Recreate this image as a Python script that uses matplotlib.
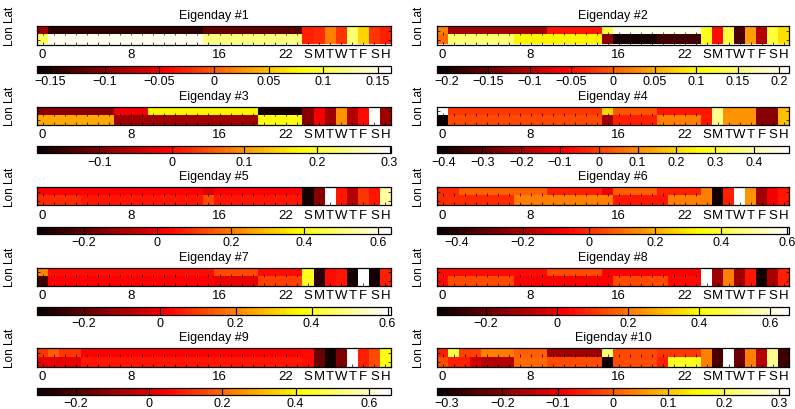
import numpy as np
import matplotlib
matplotlib.use('Agg')
import matplotlib.pyplot as plt
from matplotlib.ticker import MultipleLocator, FuncFormatter

plt.rcParams['font.family'] = ['Liberation Sans', 'DejaVu Sans']

# x axis: 24 hours then the week days + holiday
hour_ticks = [0, 8, 16, 22]
hour_labels = ['0', '8', '16', '22']
day_labels = ['S', 'M', 'T', 'W', 'T', 'F', 'S', 'H']
titles = ['Eigenday #%d' % (i + 1) for i in range(10)]

# top row of each eigenday (Lat), 24 hours
lat = [
    [-0.09, -0.146, -0.146, -0.146, -0.146, -0.146, -0.146, -0.146, -0.146, -0.146, -0.146, -0.146,
     -0.146, -0.146, -0.146, -0.12, -0.12, -0.12, -0.12, -0.12, -0.12, -0.12, -0.12, -0.12],
    [0.021, -0.119, -0.119, -0.119, -0.119, -0.119, -0.119, -0.119, -0.119, -0.119, -0.042, -0.042,
     -0.042, -0.042, -0.042, 0.127, 0.199, 0.199, 0.199, 0.199, 0.199, 0.199, 0.199, 0.199],
    [-0.088, -0.088, -0.088, -0.088, -0.088, -0.088, -0.088, -0.015, -0.015, -0.015, 0.165, 0.165,
     0.165, 0.165, 0.165, 0.165, 0.165, 0.165, 0.165, 0.165, -0.171, -0.171, -0.171, -0.171],
    [0.48, -0.009, -0.009, -0.009, -0.009, -0.009, -0.009, -0.009, -0.009, -0.009, -0.009, -0.009,
     -0.009, -0.009, -0.009, 0.2, 0.036, 0.036, 0.036, 0.036, -0.054, -0.054, -0.054, -0.054],
    [0.02, 0.02, 0.02, 0.02, 0.02, 0.02, 0.02, 0.02, 0.02, 0.02, 0.02, 0.02,
     0.02, 0.02, 0.02, -0.02, 0.03, 0.03, 0.03, 0.03, 0.03, 0.03, 0.03, 0.03],
    [-0.002, -0.002, 0.073, 0.073, 0.073, 0.073, 0.073, 0.073, 0.073, 0.073, -0.013, -0.013,
     -0.013, -0.013, -0.013, -0.087, 0.073, 0.073, 0.073, 0.073, -0.013, -0.013, -0.013, -0.013],
    [0.19, 0.031, 0.031, 0.031, 0.031, 0.031, 0.031, 0.031, 0.031, 0.031, 0.031, 0.031,
     0.031, 0.031, 0.031, 0.031, 0.124, 0.124, 0.124, 0.124, 0.031, 0.031, 0.031, 0.031],
    [0.039, 0.039, 0.039, 0.039, 0.039, 0.039, 0.039, 0.039, 0.039, 0.039, 0.138, 0.138,
     0.138, 0.138, 0.138, 0.029, 0.029, 0.029, 0.029, 0.029, 0.029, 0.029, 0.029, 0.029],
    [0.12, 0.178, 0.12, 0.12, 0.052, 0.052, 0.052, 0.052, 0.052, 0.052, 0.052, 0.052,
     0.052, 0.052, 0.052, 0.052, 0.052, 0.052, 0.052, 0.052, 0.052, 0.052, 0.052, 0.052],
    [-0.051, 0.191, -0.025, -0.025, 0.032, 0.032, 0.032, 0.0, 0.0, 0.0, -0.178, -0.178,
     -0.178, -0.178, -0.178, 0.223, -0.013, -0.013, -0.013, -0.013, -0.032, -0.032, -0.032, -0.032],
]

# bottom row of each eigenday (Lon), 24 hours
lon = [
    [0.11, 0.155, 0.155, 0.155, 0.155, 0.155, 0.155, 0.155, 0.155, 0.155, 0.155, 0.155,
     0.155, 0.155, 0.155, 0.12, 0.12, 0.12, 0.12, 0.12, 0.12, 0.12, 0.12, 0.12],
    [0.01, 0.148, 0.148, 0.148, 0.148, 0.148, 0.148, 0.093, 0.093, 0.093, 0.093, 0.093,
     0.093, 0.093, 0.093, -0.127, -0.204, -0.204, -0.204, -0.204, -0.178, -0.178, -0.178, -0.178],
    [0.112, 0.112, 0.112, 0.112, 0.112, 0.112, 0.112, -0.079, -0.079, -0.079, -0.079, -0.079,
     -0.079, -0.079, -0.079, -0.079, -0.079, -0.079, -0.079, -0.079, 0.18, 0.18, 0.18, 0.18],
    [-0.41, 0.018, 0.018, 0.018, 0.018, 0.018, 0.018, 0.018, 0.018, 0.018, 0.018, 0.018,
     0.018, 0.018, 0.018, -0.217, -0.036, -0.036, -0.036, -0.036, 0.091, 0.091, 0.091, 0.091],
    [0.08, 0.08, 0.08, 0.08, 0.06, 0.06, 0.06, 0.06, 0.06, 0.06, 0.06, 0.06,
     0.06, 0.06, 0.06, 0.13, 0.06, 0.06, 0.06, 0.06, 0.06, 0.06, 0.06, 0.06],
    [-0.002, -0.002, -0.002, -0.002, -0.002, -0.002, -0.002, 0.126, 0.126, 0.126, 0.126, 0.126,
     0.126, 0.126, 0.126, 0.126, -0.034, -0.034, -0.034, -0.034, -0.034, 0.126, 0.126, 0.126],
    [-0.248, 0.013, 0.013, 0.013, 0.013, 0.013, 0.013, 0.013, 0.013, 0.013, 0.013, 0.013,
     0.013, 0.013, 0.013, 0.013, -0.015, -0.015, -0.015, -0.015, 0.106, 0.106, 0.106, 0.106],
    [0.039, 0.128, 0.128, 0.128, 0.128, 0.128, 0.128, 0.019, 0.019, 0.019, 0.019, 0.019,
     0.019, 0.019, 0.019, 0.019, 0.128, 0.128, 0.128, 0.128, 0.128, 0.039, 0.039, 0.039],
    [0.023, 0.023, 0.023, 0.023, 0.081, 0.081, 0.081, 0.081, 0.081, 0.081, 0.081, 0.081,
     0.081, 0.081, 0.081, 0.081, 0.081, 0.081, 0.081, 0.081, 0.081, 0.081, 0.081, 0.081],
    [-0.013, -0.051, -0.051, -0.127, -0.159, -0.159, -0.159, 0.013, 0.013, 0.013, -0.019, -0.019,
     -0.019, -0.019, -0.019, -0.305, -0.013, -0.013, -0.013, -0.013, -0.051, 0.178, 0.178, 0.178],
]

# S M T W T F S H
days = [
    [-0.026, -0.023, 0.016, -0.019, 0.113, 0.057, -0.016, -0.026],
    [0.119, -0.051, 0.127, -0.17, 0.042, -0.106, 0.127, 0.085],
    [-0.088, -0.015, -0.079, 0.097, -0.064, 0.0, 0.3, -0.079],
    [-0.054, 0.381, 0.109, 0.109, 0.109, -0.236, -0.236, 0.173],
    [-0.308, -0.134, 0.63, 0.058, -0.086, 0.106, 0.058, 0.54],
    [0.136, -0.439, -0.013, 0.6, 0.158, -0.226, -0.087, -0.034],
    [0.4, -0.276, 0.031, 0.05, -0.295, 0.6, -0.295, 0.068],
    [0.65, -0.119, 0.217, -0.119, 0.059, -0.317, -0.09, 0.078],
    [0.062, -0.16, -0.276, -0.131, 0.65, 0.1, 0.158, 0.419],
    [0.032, -0.254, 0.315, -0.223, 0.032, -0.159, 0.242, -0.267],
]

# colour ranges and colorbar tick spacing
cmin = [-0.162, -0.212, -0.186, -0.417, -0.327, -0.46, -0.323, -0.337, -0.305, -0.318]
cmax = [0.162, 0.212, 0.302, 0.49, 0.636, 0.605, 0.609, 0.652, 0.66, 0.318]
cstep = [0.05, 0.05, 0.1, 0.1, 0.2, 0.2, 0.2, 0.2, 0.2, 0.1]

W, H = 795, 409
fig = plt.figure(figsize=(W / 100, H / 100), dpi=100, facecolor='white')
cmap = plt.get_cmap('hot', 64)

left_px = [37, 437]
width_px = [354, 352]
label_px = [10, 419]
fmt = FuncFormatter(lambda v, p: ('%g' % round(v, 4)).replace('-', '\u2212'))

for i in range(10):
    r, c = i // 2, i % 2
    top = 26 + 80.5 * r
    x0 = left_px[c] / W
    w = width_px[c] / W

    # heatmap: hours per row, days spanning both rows
    ax = fig.add_axes([x0, 1 - (top + 18.5) / H, w, 18.5 / H])
    grid = np.vstack([np.r_[lat[i], days[i]], np.r_[lon[i], days[i]]])
    im = ax.imshow(grid, cmap=cmap, vmin=cmin[i], vmax=cmax[i], aspect='auto',
                   interpolation='nearest', extent=(-0.5, 31.5, 1.5, -0.5))
    ax.set_xticks(hour_ticks + list(range(24, 32)))
    ax.set_xticklabels(hour_labels + day_labels)
    ax.set_xticks(np.arange(32), minor=True)
    ax.set_yticks([0, 1])
    ax.set_yticklabels([])
    ax.tick_params(which='both', direction='in', length=2, width=0.5,
                   top=False, bottom=True, left=True, right=True, labelsize=9.5, pad=3)
    for s in ax.spines.values():
        s.set_linewidth(0.9)
    ax.set_title(titles[i], fontsize=9, pad=5)

    # small ticks between the two hour rows
    mid = ax.secondary_xaxis(0.5)
    mid.set_xticks(np.arange(24))
    mid.tick_params(direction='out', length=2, width=0.5, labeltop=False, labelbottom=False)
    for s in mid.spines.values():
        s.set_visible(False)

    fig.text(label_px[c] / W, 1 - top / H, 'Lon Lat', rotation=90,
             ha='center', va='center', fontsize=8.5)

    # colorbar underneath
    cax = fig.add_axes([x0, 1 - (top + 47) / H, w, 7.5 / H])
    cb = fig.colorbar(im, cax=cax, orientation='horizontal')
    cb.outline.set_linewidth(0.9)
    cax.xaxis.set_major_locator(MultipleLocator(cstep[i]))
    cax.xaxis.set_major_formatter(fmt)
    cax.tick_params(direction='in', length=3.5, width=0.8, top=True, bottom=True,
                    labelsize=9, pad=2.5)

fig.savefig('out.png', dpi=100, facecolor='white')
